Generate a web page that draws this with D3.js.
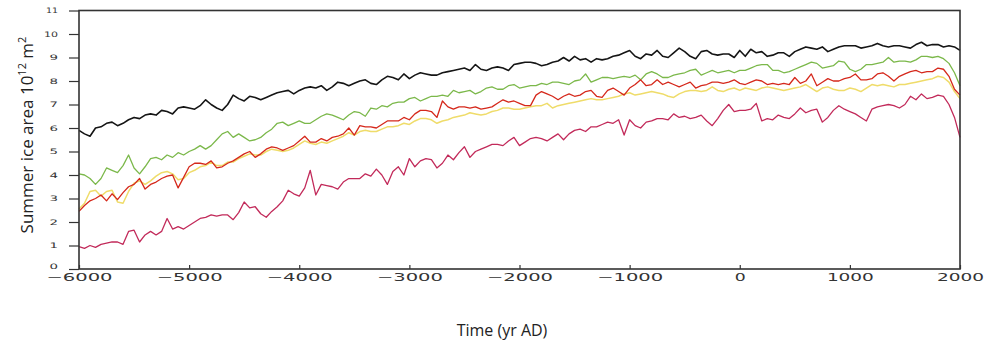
<!DOCTYPE html>
<html>
<head>
<meta charset="utf-8">
<script src="https://cdn.jsdelivr.net/npm/d3@7"></script>
<style>
  html, body { margin: 0; padding: 0; background: #fff; }
  svg { display: block; }
</style>
</head>
<body>
<svg id="chart" width="987" height="348"></svg>
<script>
// Simulated summer sea-ice area (10^12 m^2), 6000 BC to AD 2000, 50-year steps
const years = d3.range(-6000, 2001, 50);

const blackSeries = [
  5.9,5.75,5.65,6.0,6.05,6.2,6.25,6.1,6.2,6.35,6.45,6.4,6.55,6.6,6.55,6.75,6.7,6.6,6.85,6.9,6.85,6.8,6.95,7.2,7.0,6.85,6.75,7.0,7.4,7.25,7.15,7.35,7.3,
  7.2,7.3,7.4,7.5,7.55,7.6,7.45,7.6,7.7,7.75,7.7,7.8,7.6,7.75,7.95,7.9,7.8,7.9,8.0,8.05,7.9,7.85,8.05,8.2,8.15,8.05,8.3,8.1,8.25,8.35,8.3,8.25,
  8.25,8.35,8.4,8.45,8.5,8.55,8.45,8.7,8.5,8.45,8.55,8.6,8.55,8.45,8.7,8.75,8.8,8.8,8.75,8.65,8.7,8.8,8.85,9.0,8.85,9.05,8.9,8.95,8.8,8.95,8.9,
  8.95,9.05,9.1,9.2,9.3,9.05,8.95,9.15,9.1,9.3,9.05,9.0,9.2,9.4,9.25,9.05,8.95,9.25,9.3,9.15,9.1,9.15,9.15,9.0,9.3,9.05,9.35,9.2,9.25,9.05,9.1,9.2,
  9.2,9.05,9.25,9.35,9.45,9.4,9.35,9.45,9.25,9.35,9.45,9.5,9.5,9.5,9.4,9.45,9.5,9.6,9.5,9.45,9.5,9.5,9.45,9.4,9.55,9.65,9.5,9.55,9.55,9.45,9.5,9.45,9.3
];

const greenSeries = [
  4.05,4.0,3.85,3.6,3.85,4.3,4.2,4.1,4.4,4.85,4.3,4.05,4.35,4.7,4.75,4.65,4.85,4.75,4.95,4.85,5.0,5.1,5.25,5.1,5.25,5.5,5.75,5.85,5.6,5.75,5.6,5.45,5.5,
  5.6,5.8,5.95,6.2,6.25,6.1,6.2,6.3,6.2,6.2,6.35,6.5,6.6,6.55,6.45,6.35,6.55,6.7,6.65,6.5,6.85,6.8,6.95,6.9,7.05,7.1,7.1,7.25,7.3,7.15,7.25,7.35,
  7.35,7.4,7.35,7.6,7.5,7.55,7.6,7.45,7.55,7.7,7.75,7.65,7.65,7.8,7.85,7.7,7.75,7.8,7.8,7.9,7.85,7.95,7.95,7.9,7.85,8.0,8.05,8.3,7.95,8.05,8.15,
  8.15,8.1,8.15,8.2,8.15,8.25,8.05,8.3,8.4,8.3,8.15,8.15,8.25,8.3,8.35,8.45,8.5,8.25,8.35,8.45,8.35,8.4,8.45,8.35,8.45,8.45,8.55,8.65,8.7,8.7,8.45,8.45,
  8.35,8.4,8.5,8.6,8.7,8.8,8.75,8.55,8.6,8.65,8.85,8.8,8.5,8.4,8.5,8.7,8.7,8.75,8.8,9.0,8.8,8.85,8.85,8.8,8.9,9.05,9.05,9.0,9.05,8.95,8.75,8.35,7.8
];

const redSeries = [
  2.45,2.7,2.9,3.0,3.15,2.9,3.2,2.95,3.25,3.5,3.6,3.85,3.4,3.6,3.7,3.85,3.95,4.0,3.45,3.9,4.35,4.5,4.5,4.45,4.6,4.3,4.35,4.5,4.6,4.75,4.9,5.0,4.75,
  4.9,5.1,5.2,5.15,5.05,5.15,5.25,5.45,5.65,5.4,5.4,5.55,5.45,5.6,5.65,5.75,6.0,5.7,6.1,6.05,6.05,6.0,6.15,6.3,6.3,6.3,6.45,6.35,6.6,6.75,6.75,6.7,
  6.45,7.15,6.9,6.8,6.9,6.9,6.85,6.9,6.8,6.85,6.9,7.05,7.2,7.1,7.15,7.05,6.95,6.95,7.4,7.55,7.45,7.35,7.2,7.35,7.45,7.35,7.4,7.55,7.6,7.35,7.3,
  7.6,7.7,7.55,7.4,7.7,7.85,8.05,7.8,7.85,8.05,7.85,7.95,7.85,7.75,7.85,7.95,7.7,7.8,7.85,7.95,7.95,7.9,7.95,8.05,7.9,7.85,7.95,8.05,8.0,7.85,7.9,7.85,
  7.9,7.85,8.15,7.9,8.0,8.3,7.8,7.95,8.1,8.0,8.0,8.1,8.15,8.3,8.05,8.05,8.1,8.3,8.35,8.2,8.0,8.2,8.3,8.4,8.45,8.35,8.4,8.4,8.55,8.5,8.2,7.65,7.4
];

const yellowSeries = [
  2.55,2.8,3.3,3.35,3.1,3.3,3.35,2.85,2.8,3.3,3.65,3.75,3.6,3.75,3.95,4.1,4.15,4.05,3.8,3.85,4.1,4.2,4.35,4.4,4.55,4.4,4.4,4.55,4.55,4.7,4.8,4.9,4.85,
  4.85,5.0,5.1,5.05,5.0,5.05,5.15,5.3,5.45,5.35,5.3,5.4,5.35,5.45,5.55,5.65,5.8,5.7,5.85,5.9,5.85,5.85,5.95,6.05,6.05,6.1,6.2,6.15,6.3,6.4,6.4,6.35,
  6.2,6.3,6.35,6.45,6.5,6.55,6.65,6.6,6.55,6.6,6.7,6.75,6.85,6.85,6.8,6.8,6.85,6.9,6.95,6.95,7.05,6.85,6.95,7.0,7.05,7.1,7.15,7.2,7.25,7.2,7.2,
  7.25,7.3,7.35,7.45,7.5,7.4,7.45,7.5,7.55,7.5,7.45,7.35,7.3,7.45,7.55,7.6,7.6,7.55,7.6,7.75,7.6,7.55,7.65,7.7,7.6,7.7,7.65,7.6,7.7,7.75,7.7,7.65,
  7.6,7.65,7.7,7.75,7.85,7.7,7.55,7.7,7.75,7.65,7.6,7.6,7.7,7.65,7.55,7.7,7.85,7.8,7.85,7.8,7.75,7.85,7.85,7.9,7.95,8.0,8.05,8.1,8.2,8.15,7.95,7.55,7.25
];

const crimsonSeries = [
  0.95,0.88,1.0,0.92,1.05,1.1,1.15,1.15,1.05,1.6,1.65,1.15,1.45,1.6,1.45,1.6,2.15,1.7,1.8,1.7,1.85,2.0,2.15,2.2,2.3,2.25,2.3,2.3,2.1,2.4,2.85,2.6,2.65,
  2.35,2.2,2.45,2.65,2.9,3.35,3.2,3.1,3.45,4.2,3.15,3.6,3.55,3.5,3.4,3.7,3.85,3.85,3.85,4.05,3.95,4.25,4.0,3.6,4.15,4.35,4.0,4.7,4.35,4.6,4.7,4.65,
  4.3,4.5,4.85,4.65,4.95,5.2,4.75,5.0,5.1,5.2,5.3,5.3,5.25,5.45,5.6,5.25,5.4,5.55,5.6,5.55,5.45,5.6,5.75,5.5,5.75,5.9,5.95,5.85,6.05,6.05,6.15,
  6.25,6.2,6.35,5.7,6.35,6.1,6.0,6.25,6.3,6.4,6.4,6.35,6.6,6.45,6.5,6.4,6.45,6.55,6.3,6.1,6.4,6.75,7.0,6.7,6.75,6.75,6.8,7.05,6.3,6.4,6.35,6.55,
  6.45,6.4,6.6,6.85,6.65,6.75,6.8,6.25,6.45,6.75,6.95,6.8,6.7,6.6,6.45,6.3,6.8,6.9,6.95,7.0,6.95,6.85,7.0,7.35,7.2,7.45,7.25,7.3,7.4,7.35,7.0,6.45,5.6
];

const xTickValues = [-6000, -5000, -4000, -3000, -2000, -1000, 0, 1000, 2000];
const xTickLabels = ["\u22126000", "\u22125000", "\u22124000", "\u22123000", "\u22122000", "\u22121000", "0", "1000", "2000"];
const yTickValues = [0, 1, 2, 3, 4, 5, 6, 7, 8, 9, 10, 11];

const seriesList = [
  { name: "black",   values: blackSeries,   color: "#151515", width: 1.6 },
  { name: "green",   values: greenSeries,   color: "#7bb84a", width: 1.3 },
  { name: "yellow",  values: yellowSeries,  color: "#efdc6a", width: 1.5 },
  { name: "red",     values: redSeries,     color: "#d5281b", width: 1.3 },
  { name: "crimson", values: crimsonSeries, color: "#c22a5a", width: 1.3 }
];

const svg = d3.select("#chart");
const plot = { left: 79, right: 960, top: 10.5, bottom: 269 };

const x = d3.scaleLinear().domain([-6000, 2000]).range([plot.left, plot.right]);
const y = d3.scaleLinear().domain([0, 11]).range([plot.bottom, plot.top]);

svg.append("rect").attr("width", 987).attr("height", 348).attr("fill", "#fff");

// Series lines
const line = d3.line()
  .x((d, i) => x(years[i]))
  .y(d => y(d));

svg.append("g")
  .selectAll("path")
  .data(seriesList)
  .join("path")
  .attr("fill", "none")
  .attr("stroke", d => d.color)
  .attr("stroke-width", d => d.width)
  .attr("stroke-linejoin", "round")
  .attr("d", d => line(d.values.slice(0, years.length)));

// Stretched numeric tick labels
const labelFont = "'DejaVu Sans', 'Liberation Sans', sans-serif";

const yAxis = d3.axisLeft(y).tickValues(yTickValues).tickSize(10).tickPadding(11)
  .tickFormat(d => String(d));
const gy = svg.append("g").attr("transform", `translate(${plot.left},0)`).call(yAxis);
gy.select(".domain").remove();
gy.selectAll(".tick line").attr("stroke", "#333").attr("stroke-width", 1.2);
gy.selectAll(".tick text")
  .attr("font-family", labelFont)
  .attr("font-size", 7.5)
  .attr("fill", "#333")
  .attr("y", d => d === 0 ? -3 : 0)
  .attr("lengthAdjust", "spacingAndGlyphs")
  .attr("textLength", d => d === 11 ? 12 : (d >= 10 ? 14 : 8.5));

const xAxis = d3.axisBottom(x).tickValues(xTickValues).tickSize(-4).tickPadding(4.5)
  .tickFormat((d, i) => xTickLabels[i]);
const gx = svg.append("g").attr("transform", `translate(0,${plot.bottom})`).call(xAxis);
gx.select(".domain").remove();
gx.selectAll(".tick line").attr("stroke", "#333").attr("stroke-width", 1.2);
gx.selectAll(".tick text")
  .attr("font-family", labelFont)
  .attr("font-size", 10)
  .attr("fill", "#333")
  .attr("lengthAdjust", "spacingAndGlyphs")
  .attr("textLength", (d, i) => {
    const s = xTickLabels[i];
    const neg = s.startsWith("\u2212");
    const digits = s.length - (neg ? 1 : 0);
    return digits * 12 - 1 + (neg ? 19 : 0);
  });

// Plot frame
svg.append("rect")
  .attr("x", plot.left).attr("y", plot.top)
  .attr("width", plot.right - plot.left).attr("height", plot.bottom - plot.top)
  .attr("fill", "none").attr("stroke", "#333").attr("stroke-width", 1.6);

// Axis titles
const titleFont = "'Open Sans', 'Noto Sans', sans-serif";

svg.append("text")
  .attr("x", 502).attr("y", 336)
  .attr("text-anchor", "middle")
  .attr("font-family", titleFont).attr("font-size", 16).attr("fill", "#222")
  .text("Time (yr AD)");

const yTitle = svg.append("text")
  .attr("transform", "translate(33,135) rotate(-90)")
  .attr("text-anchor", "middle")
  .attr("font-family", titleFont).attr("font-size", 17).attr("fill", "#222");
yTitle.append("tspan").text("Summer ice area 10");
yTitle.append("tspan").attr("font-size", 11).attr("dy", -7).text("12");
yTitle.append("tspan").attr("dy", 7).text(" m");
yTitle.append("tspan").attr("font-size", 11).attr("dy", -7).text("2");
</script>
</body>
</html>
